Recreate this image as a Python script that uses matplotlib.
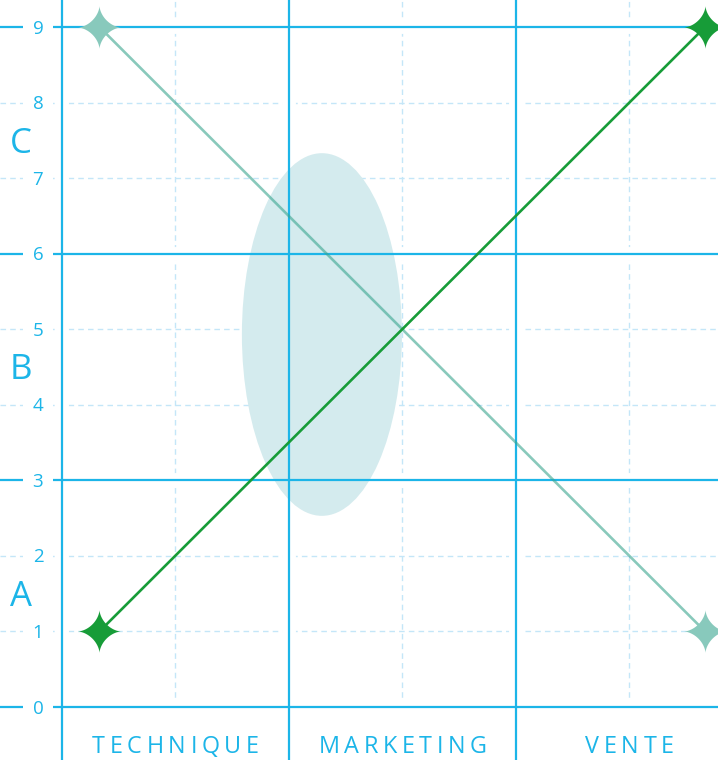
import numpy as np
import matplotlib
matplotlib.use("Agg")
import matplotlib.pyplot as plt
from matplotlib.patches import Ellipse
from matplotlib.path import Path
from matplotlib.transforms import offset_copy
from matplotlib.font_manager import FontProperties, findfont
from matplotlib.ft2font import FT2Font

# ---------------- data ----------------
categories = ["TECHNIQUE", "MARKETING", "VENTE"]
row_labels = ["A", "B", "C"]
row_label_y = [1.5, 4.5, 7.5]
y_ticks = list(range(10))
series_x = [0.165, 2.833]
series_up = [1, 9]
series_down = [9, 1]
ellipse_center = (1.145, 4.93)
ellipse_width = 0.705
ellipse_height = 4.8

# ---------------- style ----------------
BLUE = "#1cb5e8"
MINOR = "#c4e6f8"
GREEN = "#179c38"
TEAL = "#3aa58f"
TEAL_MARK = "#88c9bc"
ELLIPSE = "#d4ebee"
FONT = "Open Sans"

plt.rcParams["font.family"] = [FONT, "DejaVu Sans"]

DPI = 100
fig = plt.figure(figsize=(7.18, 7.60), dpi=DPI)
ax = fig.add_axes([0, 0, 1, 1])
ax.set_xlim(-0.2731, 2.8899)
ax.set_ylim(-0.7015, 9.3574)
for s in ax.spines.values():
    s.set_visible(False)
ax.set_xticks([])
ax.set_yticks([])
ax.set_facecolor("white")

# minor grid (dashed)
for yv in y_ticks:
    if yv % 3 != 0:
        ax.axhline(yv, color=MINOR, lw=1.0, ls=(0, (4, 3)), zorder=1)
for xv in [0.5, 1.5, 2.5]:
    ax.vlines(xv, 0, 20, color=MINOR, lw=1.0, ls=(0, (4, 3)), zorder=1)

# halos + major grid
for yv in [0, 3, 6, 9]:
    ax.axhline(yv, color="white", lw=10, zorder=1.4)
    ax.axhline(yv, color=BLUE, lw=1.6, zorder=1.8)
for xv in [0, 1, 2, 3]:
    ax.axvline(xv, color="white", lw=10, zorder=1.4)
    ax.axvline(xv, color=BLUE, lw=1.6, zorder=1.8)

# ellipse
ax.add_patch(Ellipse(ellipse_center, ellipse_width, ellipse_height,
                     facecolor=ELLIPSE, edgecolor="none", zorder=1.6))

# star marker (sparkle)
t = np.linspace(0, 2 * np.pi, 361)
p = 3.2
sx = np.sign(np.cos(t)) * np.abs(np.cos(t)) ** p
sy = np.sign(np.sin(t)) * np.abs(np.sin(t)) ** p
star = Path(np.column_stack([sx, sy]), closed=True)

ax.plot(series_x, series_down, color=TEAL, lw=1.9, alpha=0.6, zorder=3,
        solid_capstyle="butt")
ax.plot(series_x, series_up, color=GREEN, lw=1.9, zorder=3.2,
        solid_capstyle="butt")
ax.plot(series_x, series_down, ls="none", marker=star, ms=31,
        mfc=TEAL_MARK, mec="none", zorder=4)
ax.plot(series_x, series_up, ls="none", marker=star, ms=31,
        mfc=GREEN, mec="none", zorder=4.2)

# y tick labels (white boxes break the grid lines)
tick_tr = offset_copy(ax.transData, fig=fig, x=0, y=-6.6, units="dots")
for yv in y_ticks:
    ax.text(-0.1057, yv, str(yv), transform=tick_tr, color=BLUE,
            fontsize=13.5, fontfamily=FONT, ha="center", va="baseline",
            zorder=5, bbox=dict(facecolor="white", edgecolor="none", pad=7.2))

# row labels
row_tr = offset_copy(ax.transData, fig=fig, x=0, y=-12.4, units="dots")
for lab, yv in zip(row_labels, row_label_y):
    ax.text(-0.181, yv, lab, transform=row_tr, color=BLUE, fontsize=25,
            fontfamily=FONT, ha="center", va="baseline", zorder=5)

# category labels with letter spacing
def spaced_text(x, y, s, fs, spacing_px, dy, **kw):
    fp = FontProperties(family=FONT, size=fs)
    font = FT2Font(findfont(fp))
    font.set_size(fs, DPI)
    adv = [font.load_char(ord(c)).linearHoriAdvance / 65536.0 for c in s]
    total = sum(adv) + spacing_px * (len(s) - 1)
    pos = -total / 2.0
    for c, a in zip(s, adv):
        tr = offset_copy(ax.transData, fig=fig, x=pos, y=dy, units="dots")
        ax.text(x, y, c, transform=tr, fontproperties=fp, ha="left",
                va="baseline", **kw)
        pos += a + spacing_px

for i, cat in enumerate(categories):
    spaced_text(i + 0.5, -0.5, cat, 16.8, 4.6, -8.5, color=BLUE, zorder=5)

fig.savefig("out.png", dpi=DPI)
